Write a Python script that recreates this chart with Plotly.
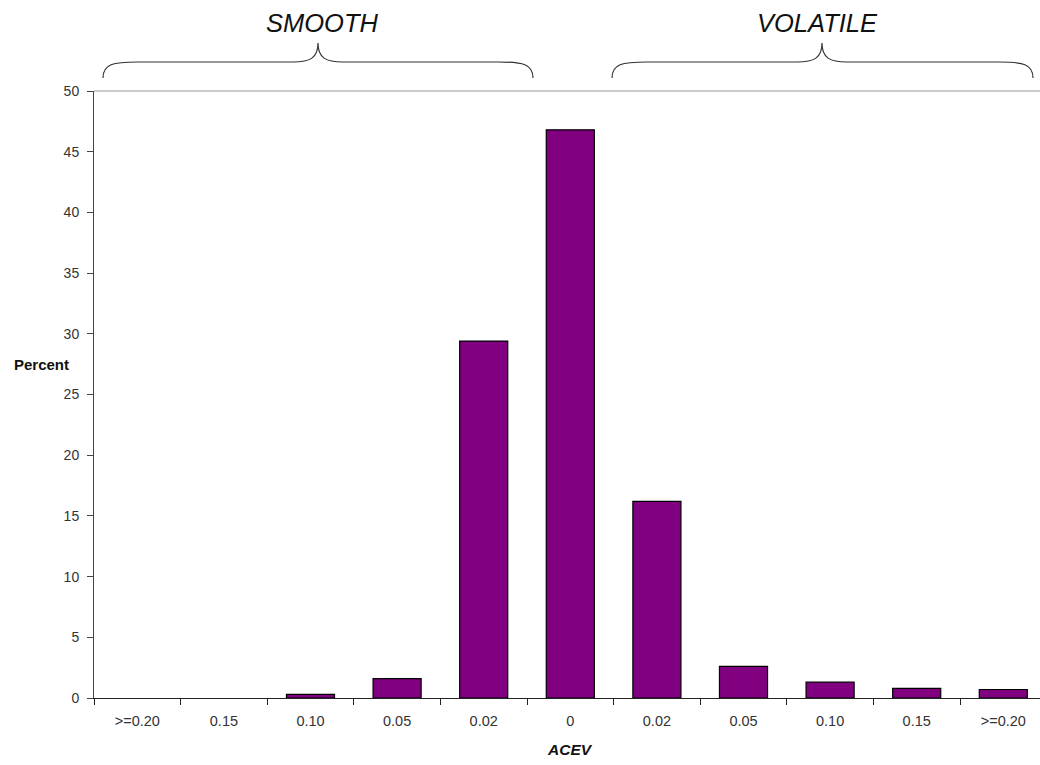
import plotly.graph_objects as go

# ---- data ----
categories = [">=0.20", "0.15", "0.10", "0.05", "0.02", "0", "0.02", "0.05", "0.10", "0.15", ">=0.20"]
percent = [0.0, 0.0, 0.3, 1.6, 29.4, 46.8, 16.2, 2.6, 1.3, 0.8, 0.7]
y_ticks = [0, 5, 10, 15, 20, 25, 30, 35, 40, 45, 50]

W, H = 1040, 765
L, R, T, B = 94, 0, 91, 67
PW, PH = W - L - R, H - T - B
CAT_W = 86.6  # px per category in reference


def px(x):
    return (x - L) / PW


def py(y):
    return (H - B - y) / PH


x_idx = list(range(len(categories)))

fig = go.Figure()
fig.add_trace(go.Bar(
    x=x_idx, y=percent,
    marker=dict(color="#800080",
                line=dict(color="black", width=[1.2 if v > 0 else 0 for v in percent])),
    width=0.555,
    hoverinfo="skip",
))

font_main = "Liberation Sans, Arial, sans-serif"

fig.update_layout(
    width=W, height=H,
    margin=dict(l=L, r=R, t=T, b=B),
    paper_bgcolor="white", plot_bgcolor="white",
    showlegend=False,
    font=dict(family=font_main, size=14, color="#222"),
    xaxis=dict(
        range=[-0.5, -0.5 + PW / CAT_W],
        tickmode="array", tickvals=x_idx, ticktext=categories,
        ticks="", showgrid=False, zeroline=False,
        showline=True, linecolor="#222", linewidth=1,
        tickfont=dict(size=14.5, color="#333"),
        ticklabelstandoff=10,
        minor=dict(tickmode="array", tickvals=[i - 0.5 for i in range(len(categories) + 1)],
                   ticks="outside", ticklen=6, tickcolor="#222", tickwidth=1, showgrid=False),
    ),
    yaxis=dict(
        range=[0, 50], tickmode="array", tickvals=y_ticks,
        ticks="outside", ticklen=6, tickcolor="#444", tickwidth=1,
        showgrid=False, zeroline=False,
        showline=True, linecolor="#444", linewidth=1,
        tickfont=dict(size=14, color="#333"),
        ticklabelstandoff=5,
    ),
)

# top border line of plot area
fig.add_shape(type="line", xref="paper", yref="paper", x0=0, x1=1, y0=1, y1=1,
              line=dict(color="#999", width=1.2))


def brace(xl, xtip, xr, y_end, y_bar, y_tip):
    # path in pixel coords -> paper coords
    def P(x, y):
        return f"{px(x):.5f},{py(y):.5f}"
    c = 35
    d = 25
    path = (
        f"M {P(xl, y_end)} "
        f"C {P(xl, y_bar + 2)} {P(xl + 10, y_bar)} {P(xl + c, y_bar)} "
        f"L {P(xtip - d, y_bar)} "
        f"C {P(xtip - 8, y_bar)} {P(xtip, y_bar - 4)} {P(xtip, y_tip)} "
        f"C {P(xtip, y_bar - 4)} {P(xtip + 8, y_bar)} {P(xtip + d, y_bar)} "
        f"L {P(xr - c, y_bar)} "
        f"C {P(xr - 10, y_bar)} {P(xr, y_bar + 2)} {P(xr, y_end)}"
    )
    fig.add_shape(type="path", xref="paper", yref="paper", path=path,
                  line=dict(color="#333", width=1.2))


brace(103, 318, 533, 78, 62, 43)
brace(612, 822, 1033, 78, 62, 43)

fig.add_annotation(text="<i>SMOOTH</i>", xref="paper", yref="paper",
                   x=px(322), y=py(23), showarrow=False,
                   font=dict(size=25.5, color="#111", family=font_main),
                   xanchor="center", yanchor="middle")
fig.add_annotation(text="<i>VOLATILE</i>", xref="paper", yref="paper",
                   x=px(817), y=py(23), showarrow=False,
                   font=dict(size=25.5, color="#111", family=font_main),
                   xanchor="center", yanchor="middle")

fig.add_annotation(text="<b>Percent</b>", xref="paper", yref="paper",
                   x=px(12), y=py(364), showarrow=False,
                   font=dict(size=15, color="#111", family=font_main),
                   xanchor="left", yanchor="middle")
fig.add_annotation(text="<b><i>ACEV</i></b>", xref="paper", yref="paper",
                   x=px(570), y=py(749), showarrow=False,
                   font=dict(size=15.5, color="#111", family=font_main),
                   xanchor="center", yanchor="middle")

fig.write_html("out.html", config={"displayModeBar": False},
               post_script="document.body.style.margin='0';")
